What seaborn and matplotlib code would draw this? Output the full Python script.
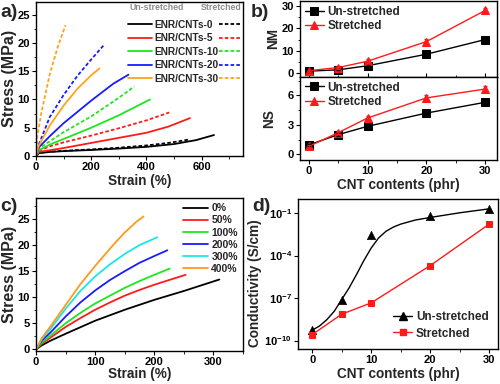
import numpy as np
import pandas as pd
import matplotlib
matplotlib.use('Agg')
import matplotlib.pyplot as plt
import seaborn as sns
from matplotlib.ticker import MultipleLocator, FixedLocator, LogFormatterMathtext, NullLocator
from matplotlib.lines import Line2D

# ---- panel a: stress-strain, un-stretched (solid) vs stretched (dashed)
a_labels = ['ENR/CNTs-0', 'ENR/CNTs-5', 'ENR/CNTs-10', 'ENR/CNTs-20', 'ENR/CNTs-30']
a_colors = ['#000000', '#ff1a1a', '#1ee61e', '#1a1aff', '#ffa31a']
a_solid_x = [[0, 10, 50, 100, 200, 300, 400, 500, 580, 645],
             [0, 10, 50, 100, 200, 300, 400, 480, 558],
             [0, 10, 50, 100, 200, 300, 413],
             [0, 10, 50, 100, 200, 280, 335],
             [0, 10, 50, 100, 150, 200, 230]]
a_solid_y = [[0, 0.5, 0.7, 0.85, 1.05, 1.3, 1.6, 2.1, 2.8, 3.7],
             [0, 0.7, 1.0, 1.4, 2.3, 3.2, 4.1, 5.2, 6.7],
             [0, 1.0, 2.0, 3.0, 5.0, 7.2, 10.0],
             [0, 1.5, 3.5, 5.8, 9.8, 12.8, 14.4],
             [0, 1.8, 5.4, 8.9, 11.9, 14.3, 15.5]]
a_dash_x = [[0, 10, 50, 100, 200, 300, 400, 480, 555],
            [0, 10, 50, 100, 200, 300, 400, 483],
            [0, 10, 50, 100, 200, 300, 356],
            [0, 10, 50, 100, 150, 200, 245],
            [0, 5, 20, 50, 80, 107]]
a_dash_y = [[0, 0.5, 0.75, 0.9, 1.15, 1.45, 1.85, 2.3, 2.9],
            [0, 0.9, 1.7, 2.4, 3.6, 4.9, 6.3, 7.7],
            [0, 1.3, 2.6, 4.2, 7.0, 10.3, 12.3],
            [0, 2.0, 6.9, 10.8, 14.2, 17.1, 19.6],
            [0, 3.5, 7.8, 14.5, 19.5, 23.2]]

# ---- panel b: NM / NS vs CNT content
cnt = [0, 5, 10, 20, 30]
nm_un = [1.0, 1.6, 3.4, 8.5, 15.0]
nm_st = [1.2, 2.6, 5.4, 14.1, 27.9]
nm_un_err = [0.3, 0.3, 0.4, 0.5, 0.6]
nm_st_err = [0.4, 0.6, 0.8, 1.0, 1.2]
ns_un = [0.95, 2.0, 2.85, 4.2, 5.3]
ns_st = [0.8, 2.2, 3.7, 5.75, 6.65]
ns_un_err = [0.1, 0.12, 0.15, 0.25, 0.15]
ns_st_err = [0.15, 0.15, 0.2, 0.25, 0.3]

# ---- panel c: stress-strain after pre-stretch
c_labels = ['0%', '50%', '100%', '200%', '300%', '400%']
c_colors = ['#000000', '#ff1a1a', '#1ee61e', '#1a1aff', '#1ae6e6', '#ff9a1a']
c_x = [[0, 10, 25, 50, 100, 150, 200, 250, 310],
       [0, 10, 25, 50, 75, 100, 125, 150, 175, 200, 225, 253],
       [0, 10, 25, 50, 75, 100, 125, 150, 175, 200, 226],
       [0, 10, 25, 50, 75, 100, 125, 150, 175, 200, 222],
       [0, 10, 25, 50, 75, 100, 125, 150, 175, 205],
       [0, 10, 25, 50, 75, 100, 125, 135, 150, 170, 182]]
c_y = [[0, 0.8, 1.7, 3.0, 5.5, 7.6, 9.5, 11.2, 13.4],
       [0, 1.1, 2.3, 4.3, 6.0, 7.6, 9.0, 10.3, 11.4, 12.4, 13.3, 14.3],
       [0, 1.3, 2.7, 5.0, 7.0, 8.8, 10.3, 11.8, 13.1, 14.3, 15.5],
       [0, 1.7, 3.3, 6.3, 9.0, 11.3, 13.3, 15.0, 16.6, 17.9, 19.0],
       [0, 2.0, 4.0, 7.8, 11.2, 14.0, 16.3, 18.3, 20.0, 21.5],
       [0, 2.2, 4.5, 8.5, 12.5, 16.0, 19.3, 20.6, 22.4, 24.5, 25.5]]

# ---- panel d: conductivity (log10 S/cm)
d_un_log = [-9.27, -7.16, -2.53, -1.24, -0.69]
d_st_log = [-9.58, -8.14, -7.34, -4.71, -1.78]
fit_x = [0, 1.25, 2.5, 3.75, 5, 6.25, 7.5, 8.75, 10, 11.25, 12.5, 13.75, 15, 17.5, 20, 25, 30]
fit_log = [-9.27, -8.97, -8.52, -7.93, -7.11, -6.29, -5.35, -4.36, -3.47, -2.76, -2.29,
           -1.99, -1.78, -1.49, -1.31, -0.98, -0.70]

sns.set_style('ticks')
plt.rcParams['font.family'] = ['Liberation Sans', 'DejaVu Sans']
plt.rcParams['font.weight'] = 'bold'
plt.rcParams['axes.labelweight'] = 'bold'
plt.rcParams['mathtext.fontset'] = 'custom'
plt.rcParams['mathtext.rm'] = 'Liberation Sans:bold'
plt.rcParams['mathtext.bf'] = 'Liberation Sans:bold'
plt.rcParams['mathtext.default'] = 'bf'
plt.rcParams['axes.linewidth'] = 1.0
plt.rcParams['xtick.labelsize'] = 8
plt.rcParams['ytick.labelsize'] = 8
plt.rcParams['axes.labelsize'] = 9.8
plt.rcParams['xtick.major.size'] = 3
plt.rcParams['ytick.major.size'] = 3
plt.rcParams['xtick.minor.size'] = 1.8
plt.rcParams['ytick.minor.size'] = 1.8
plt.rcParams['xtick.major.pad'] = 1.5
plt.rcParams['ytick.major.pad'] = 1.5
plt.rcParams['axes.labelpad'] = 1

fig = plt.figure(figsize=(5, 3.84), dpi=100)
ax_a = fig.add_axes([0.072, 0.594, 0.414, 0.401])
ax_b1 = fig.add_axes([0.600, 0.800, 0.394, 0.197])
ax_b2 = fig.add_axes([0.600, 0.583, 0.394, 0.217])
ax_c = fig.add_axes([0.072, 0.086, 0.414, 0.398])
ax_d = fig.add_axes([0.596, 0.091, 0.400, 0.391])

# panel a
solid_handles, dash_handles = [], []
for i, lab in enumerate(a_labels):
    d1 = pd.DataFrame({'x': a_solid_x[i], 'y': a_solid_y[i]})
    d2 = pd.DataFrame({'x': a_dash_x[i], 'y': a_dash_y[i]})
    sns.lineplot(data=d1, x='x', y='y', ax=ax_a, color=a_colors[i], lw=1.3, sort=False, estimator=None)
    sns.lineplot(data=d2, x='x', y='y', ax=ax_a, color=a_colors[i], lw=1.3, sort=False, estimator=None,
                 linestyle=(0, (2, 1.2)))
    solid_handles.append(Line2D([], [], color=a_colors[i], lw=1.3))
    dash_handles.append(Line2D([], [], color=a_colors[i], lw=1.3, linestyle=(0, (2, 1.2))))
ax_a.set_xlim(0, 750)
ax_a.set_ylim(0, 27.3)
ax_a.xaxis.set_major_locator(MultipleLocator(200))
ax_a.xaxis.set_minor_locator(MultipleLocator(100))
ax_a.yaxis.set_major_locator(MultipleLocator(5))
ax_a.yaxis.set_minor_locator(MultipleLocator(2.5))
ax_a.set_xlabel('Strain (%)')
ax_a.set_ylabel('Stress (MPa)', fontsize=11.5, labelpad=0)
ax_a.legend(solid_handles + dash_handles, a_labels + [''] * 5, ncol=2, frameon=False,
            loc='upper right', bbox_to_anchor=(1.04, 0.925), fontsize=7.3, handlelength=2.3,
            handletextpad=0.3, columnspacing=0.0, labelspacing=0.35, borderaxespad=0.2)
ax_a.text(0.45, 0.965, 'Un-stretched', transform=ax_a.transAxes, color='#8c8c8c', fontsize=6.3,
          ha='left', va='center')
ax_a.text(0.995, 0.965, 'Stretched', transform=ax_a.transAxes, color='#8c8c8c', fontsize=6.3,
          ha='right', va='center')

# panel b
df_b = pd.DataFrame({'cnt': cnt * 2, 'nm': nm_un + nm_st, 'ns': ns_un + ns_st,
                     'state': ['Un-stretched'] * 5 + ['Stretched'] * 5})
pal = {'Un-stretched': 'black', 'Stretched': '#ff1a1a'}
mk = {'Un-stretched': 's', 'Stretched': '^'}
for ax, col, err_un, err_st in [(ax_b1, 'nm', nm_un_err, nm_st_err), (ax_b2, 'ns', ns_un_err, ns_st_err)]:
    sns.lineplot(data=df_b, x='cnt', y=col, hue='state', style='state', palette=pal, markers=mk,
                 dashes=False, ax=ax, lw=1.0, markersize=5.5, markeredgecolor=None, estimator=None)
    ax.errorbar(cnt, df_b[col][:5], yerr=err_un, fmt='none', ecolor='black', elinewidth=0.8, capsize=1.5)
    ax.errorbar(cnt, df_b[col][5:], yerr=err_st, fmt='none', ecolor='#ff1a1a', elinewidth=0.8, capsize=1.5)
    ax.set_xlim(-1.5, 32)
    ax.xaxis.set_major_locator(MultipleLocator(10))
    ax.xaxis.set_minor_locator(MultipleLocator(5))
    ax.legend(title=None, frameon=False, loc='upper left', fontsize=8.5, handlelength=1.6,
              handletextpad=0.3, labelspacing=0.2, borderaxespad=0.15, borderpad=0.25)
ax_b1.set_ylim(-1.5, 32)
ax_b1.yaxis.set_major_locator(MultipleLocator(10))
ax_b1.yaxis.set_minor_locator(MultipleLocator(5))
ax_b1.tick_params(axis='x', which='both', labelbottom=False, direction='in')
ax_b1.set_xlabel('')
ax_b1.set_ylabel('NM')
ax_b2.set_ylim(-0.6, 7.9)
ax_b2.yaxis.set_major_locator(MultipleLocator(3))
ax_b2.yaxis.set_minor_locator(MultipleLocator(1.5))
ax_b2.set_xlabel('CNT contents (phr)')
ax_b2.set_ylabel('NS', labelpad=8)

# panel c
c_handles = []
for i, lab in enumerate(c_labels):
    d = pd.DataFrame({'x': c_x[i], 'y': c_y[i]})
    sns.lineplot(data=d, x='x', y='y', ax=ax_c, color=c_colors[i], lw=1.3, sort=False, estimator=None)
    c_handles.append(Line2D([], [], color=c_colors[i], lw=1.3))
ax_c.set_xlim(0, 350)
ax_c.set_ylim(-0.3, 29)
ax_c.xaxis.set_major_locator(MultipleLocator(100))
ax_c.xaxis.set_minor_locator(MultipleLocator(50))
ax_c.yaxis.set_major_locator(MultipleLocator(5))
ax_c.yaxis.set_minor_locator(MultipleLocator(2.5))
ax_c.set_xlabel('Strain (%)', labelpad=0)
ax_c.set_ylabel('Stress (MPa)', fontsize=11.5, labelpad=0)
ax_c.legend(c_handles, c_labels, frameon=False, loc='upper right', fontsize=7.5, handlelength=2.4,
            handletextpad=0.3, labelspacing=0.2, borderaxespad=0.1)

# panel d
df_d = pd.DataFrame({'cnt': cnt, 'un': np.power(10.0, d_un_log), 'st': np.power(10.0, d_st_log)})
df_fit = pd.DataFrame({'x': fit_x, 'y': np.power(10.0, fit_log)})
sns.lineplot(data=df_fit, x='x', y='y', ax=ax_d, color='black', lw=1.0, estimator=None)
sns.scatterplot(data=df_d, x='cnt', y='un', ax=ax_d, color='black', marker='^', s=36, edgecolor=None)
sns.lineplot(data=df_d, x='cnt', y='st', ax=ax_d, color='#ff1a1a', lw=1.0, marker='s', markersize=5,
             markeredgecolor=None, estimator=None)
ax_d.set_yscale('log')
ax_d.set_ylim(10 ** -10.6, 1)
ax_d.set_xlim(-2.4, 31.5)
ax_d.yaxis.set_major_locator(FixedLocator([1e-10, 1e-7, 1e-4, 1e-1]))
ax_d.yaxis.set_major_formatter(LogFormatterMathtext())
ax_d.yaxis.set_minor_locator(NullLocator())
ax_d.xaxis.set_major_locator(MultipleLocator(10))
ax_d.xaxis.set_minor_locator(MultipleLocator(5))
ax_d.set_xlabel('CNT contents (phr)')
ax_d.set_ylabel('Conductivity (S/cm)')
ax_d.yaxis.set_label_coords(-0.18, 0.44)
d_handles = [Line2D([], [], color='black', lw=1.0, marker='^', markersize=5.5),
             Line2D([], [], color='#ff1a1a', lw=1.0, marker='s', markersize=5)]
ax_d.legend(d_handles, ['Un-stretched', 'Stretched'], frameon=False, loc='lower right', fontsize=8.5,
            handlelength=1.6, handletextpad=0.3, labelspacing=0.35, borderaxespad=0.4)

for ax in [ax_a, ax_b1, ax_b2, ax_c, ax_d]:
    for sp in ax.spines.values():
        sp.set_visible(True)
        sp.set_color('black')
    ax.tick_params(which='both', top=False, right=False, colors='black')

fig.text(0.0, 0.99, 'a)', fontsize=14, fontweight='bold', va='top')
fig.text(0.502, 0.99, 'b)', fontsize=14, fontweight='bold', va='top')
fig.text(0.0, 0.485, 'c)', fontsize=14, fontweight='bold', va='top')
fig.text(0.505, 0.485, 'd)', fontsize=14, fontweight='bold', va='top')

fig.savefig('out.png', dpi=100)
